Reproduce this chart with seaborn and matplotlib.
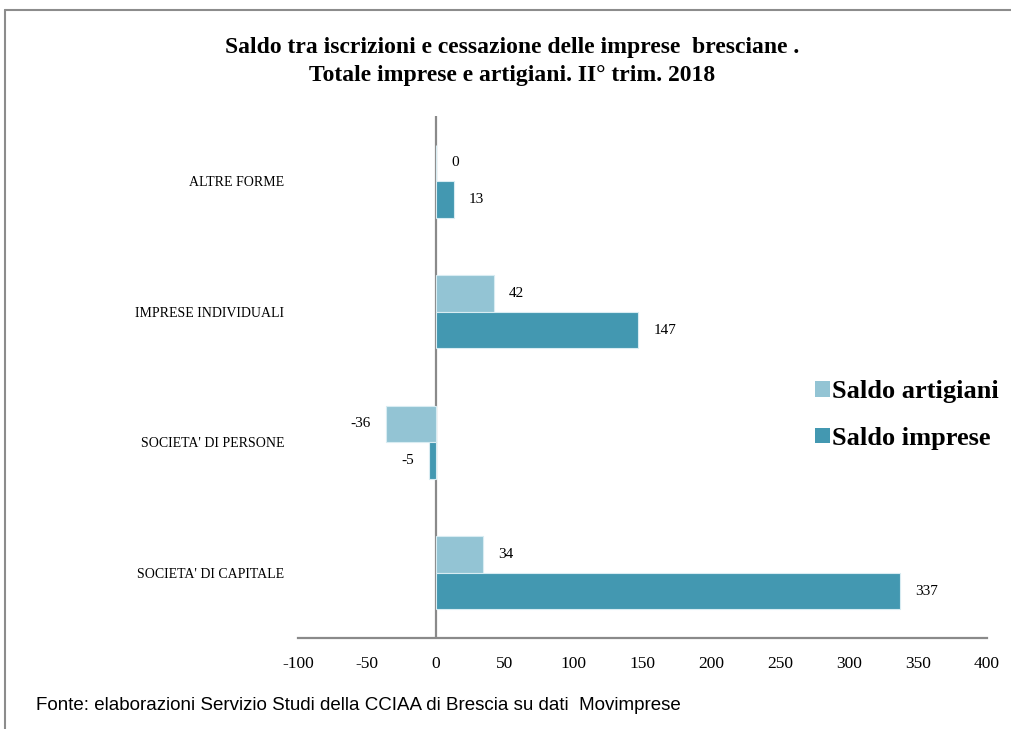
import pandas as pd
import matplotlib
matplotlib.use("Agg")
import matplotlib.pyplot as plt
import seaborn as sns
from matplotlib.lines import Line2D

# ---------------------------------------------------------------
# DATA
# ---------------------------------------------------------------
categories = ["ALTRE FORME", "IMPRESE INDIVIDUALI", "SOCIETA' DI PERSONE", "SOCIETA' DI CAPITALE"]
saldo_artigiani = [0, 42, -36, 34]
saldo_imprese = [13, 147, -5, 337]
series = ["Saldo artigiani", "Saldo imprese"]
x_ticks = [-100, -50, 0, 50, 100, 150, 200, 250, 300, 350, 400]

colors = {"Saldo artigiani": "#93c4d4", "Saldo imprese": "#4398b1"}

df = pd.DataFrame({
    "Categoria": categories * 2,
    "Serie": [series[0]] * 4 + [series[1]] * 4,
    "Valore": saldo_artigiani + saldo_imprese,
})

# ---------------------------------------------------------------
# FIGURE
# ---------------------------------------------------------------
sns.set_style("white")
plt.rcParams["font.family"] = ["Liberation Serif", "DejaVu Serif"]
plt.rcParams["text.color"] = "black"
plt.rcParams["xtick.color"] = "black"
plt.rcParams["ytick.color"] = "black"

W, H = 1011, 729
fig = plt.figure(figsize=(W / 100, H / 100), dpi=100)
ax = fig.add_axes([298 / W, 1 - 638 / H, 689 / W, (638 - 116) / H])

sns.barplot(data=df, x="Valore", y="Categoria", hue="Serie",
            order=categories, hue_order=series, palette=colors, saturation=1,
            orient="h", width=0.56, edgecolor="#d8ecf2", linewidth=0.8,
            legend=False, ax=ax)

for cont in ax.containers:
    ax.bar_label(cont, fmt="%d", padding=11, fontsize=11, color="black")

ax.set_xlim(-100, 400)
ax.set_ylim(3.5, -0.5)
ax.set_xticks(x_ticks)
ax.set_xticklabels([str(t) for t in x_ticks], fontsize=12.5)
ax.set_yticks(range(len(categories)))
ax.set_yticklabels(categories, fontsize=10)
ax.tick_params(axis="x", length=0, pad=13)
ax.tick_params(axis="y", length=0, pad=10)
ax.set_xlabel("")
ax.set_ylabel("")

for s in ["left", "top", "right"]:
    ax.spines[s].set_visible(False)
ax.spines["bottom"].set_color("#8a8a8a")
ax.spines["bottom"].set_linewidth(1.6)
ax.axvline(0, color="#8a8a8a", linewidth=1.6, zorder=0)

# legend
handles = [plt.Rectangle((0, 0), 1, 1, facecolor=colors[s], edgecolor="none") for s in series]
fig.legend(handles, series, loc="center left", bbox_to_anchor=(815 / W, 1 - 415 / H),
           frameon=False, handlelength=0.55, handleheight=0.55, handletextpad=0.1,
           labelspacing=0.9, borderpad=0, borderaxespad=0,
           prop={"family": "Liberation Serif", "weight": "bold", "size": 19})

# title
fig.text(512 / W, 1 - 47 / H, "Saldo tra iscrizioni e cessazione delle imprese  bresciane .",
         ha="center", va="center", fontsize=17, fontweight="bold")
fig.text(512 / W, 1 - 75 / H, "Totale imprese e artigiani. II° trim. 2018",
         ha="center", va="center", fontsize=17, fontweight="bold")

# source
fig.text(36 / W, 1 - 705 / H,
         "Fonte: elaborazioni Servizio Studi della CCIAA di Brescia su dati  Movimprese",
         ha="left", va="center", fontsize=13.5, family="Liberation Sans")

# outer frame (top and left edges)
fig.add_artist(Line2D([5 / W, 1], [1 - 10 / H, 1 - 10 / H], color="#8c8c8c", linewidth=1.5,
                      transform=fig.transFigure))
fig.add_artist(Line2D([5 / W, 5 / W], [0, 1 - 10 / H], color="#8c8c8c", linewidth=1.5,
                      transform=fig.transFigure))

fig.savefig("out.png", dpi=100)
